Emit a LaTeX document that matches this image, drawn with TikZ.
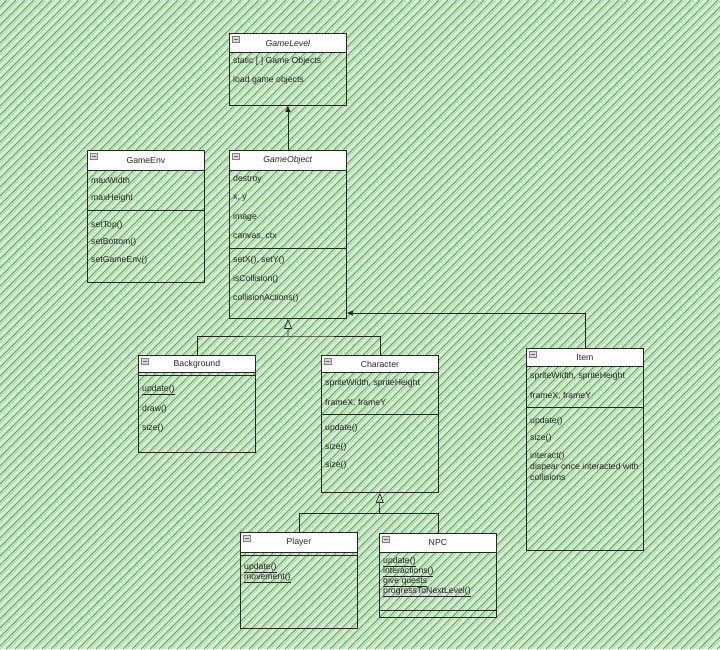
\documentclass[tikz,border=0pt]{standalone}
\usepackage{fontspec}
\setmainfont{Liberation Sans}
\usetikzlibrary{arrows.meta}

\definecolor{hatchA}{HTML}{55B04F}
\definecolor{hatchB}{HTML}{9ED498}
\definecolor{ink}{HTML}{262626}

\begin{document}
\begin{tikzpicture}[x=1pt,y=-1pt,
    box/.style={draw=ink, line width=0.8pt, anchor=north west, inner sep=0pt, minimum width=117pt},
    head/.style={draw=ink, fill=white, line width=0.8pt, anchor=north west, inner sep=0pt,
        minimum width=117pt, text=ink, font=\fontsize{8.7}{10}\selectfont},
    row/.style={anchor=west, inner sep=0pt, text=ink, font=\fontsize{8.7}{10}\selectfont},
    link/.style={draw=ink, line width=0.7pt}]

    % background hatching
    \useasboundingbox (0,0) rectangle (720,649);
    \fill[white] (0,0) rectangle (720,649);
    \begin{scope}
        \clip (0,0) rectangle (720,649);
        \foreach \i in {-660,-651,...,720} {
                \draw[hatchA, line width=1.2pt] (\i,649) -- (\i+649,0);
                \draw[hatchB, line width=1.2pt] (\i+3,649) -- (\i+652,0);
                \draw[hatchB!70, line width=0.9pt] (\i+6,649) -- (\i+655,0);
            }
    \end{scope}

    % GameLevel
    \node[box, minimum height=72pt] (glevel) at (229,33) {};
    \node[head, minimum height=19pt] (glevelHead) at (229,33) {\textit{GameLevel}};
    \node[row] (glevel1) at (233,61) {static [ ] Game Objects};
    \node[row] (glevel2) at (233,80) {load game objects};

    % GameEnv
    \node[box, minimum height=132pt] (genv) at (87,150) {};
    \node[head, minimum height=20pt] (genvHead) at (87,150) {GameEnv};
    \node[row] (genv1) at (91,180) {maxWidth};
    \node[row] (genv2) at (91,198) {maxHeight};
    \draw[link] (87,210) -- (204,210);
    \node[row] (genv3) at (91,225) {setTop()};
    \node[row] (genv4) at (91,242) {setBottom()};
    \node[row] (genv5) at (91,260) {setGameEnv()};

    % GameObject
    \node[box, minimum height=168pt] (gobj) at (229,150) {};
    \node[head, minimum height=20pt] (gobjHead) at (229,150) {\textit{GameObject}};
    \node[row] (gobj1) at (233,179) {destroy};
    \node[row] (gobj2) at (233,198) {x, y};
    \node[row] (gobj3) at (233,217) {image};
    \node[row] (gobj4) at (233,236) {canvas, ctx};
    \draw[link] (229,248) -- (347,248);
    \node[row] (gobj5) at (233,260) {setX(), setY()};
    \node[row] (gobj6) at (233,279) {isCollision()};
    \node[row] (gobj7) at (233,298) {collisionActions()};

    % Background
    \node[box, minimum height=97pt] (bg) at (138,355) {};
    \node[head, minimum height=17pt] (bgHead) at (138,355) {Background};
    \draw[link] (138,375) -- (255,375);
    \node[row] (bg1) at (142,390) {\underline{update()}};
    \node[row] (bg2) at (142,409) {draw()};
    \node[row] (bg3) at (142,428) {size()};

    % Character
    \node[box, minimum height=137pt] (ch) at (321,355) {};
    \node[head, minimum height=17pt] (chHead) at (321,355) {Character};
    \node[row] (ch1) at (325,383) {spriteWidth, spriteHeight};
    \node[row] (ch2) at (325,403) {frameX, frameY};
    \draw[link] (321,414) -- (438,414);
    \node[row] (ch3) at (325,428) {update()};
    \node[row] (ch4) at (325,447) {size()};
    \node[row] (ch5) at (325,465) {size()};

    % Item
    \node[box, minimum height=202pt] (item) at (526,348) {};
    \node[head, minimum height=18pt] (itemHead) at (526,348) {Item};
    \node[row] (item1) at (530,376) {spriteWidth, spriteHeight};
    \node[row] (item2) at (530,396) {frameX, frameY};
    \draw[link] (526,407) -- (643,407);
    \node[row] (item3) at (530,421) {update()};
    \node[row] (item4) at (530,438) {size()};
    \node[row] (item5) at (530,456) {interact()};
    \node[row] (item6) at (530,467) {dispear once interacted with};
    \node[row] (item7) at (530,477) {collisions};

    % Player
    \node[box, minimum height=96pt] (player) at (240,532) {};
    \node[head, minimum height=20pt] (playerHead) at (240,532) {Player};
    \draw[link] (240,555) -- (357,555);
    \node[row] (player1) at (244,568) {\underline{update()}};
    \node[row] (player2) at (244,578) {\underline{movement()}};

    % NPC
    \node[box, minimum height=84pt] (npc) at (379,533) {};
    \node[head, minimum height=19pt] (npcHead) at (379,533) {NPC};
    \node[row] (npc1) at (383,562) {\underline{update()}};
    \node[row] (npc2) at (383,572) {\underline{interactions()}};
    \node[row] (npc3) at (383,582) {\underline{give quests}};
    \node[row] (npc4) at (383,592) {\underline{progressToNextLevel()}};
    \draw[link] (379,610) -- (496,610);

    % collapse icons
    \foreach \x/\y in {229/33, 87/150, 229/150, 138/355, 321/355, 526/348, 240/532, 379/533} {
            \draw[fill=black!15, draw=black!50, line width=0.4pt] (\x+3,\y+3) rectangle (\x+10,\y+9);
            \draw[black!60, line width=0.6pt] (\x+4.5,\y+6) -- (\x+8.5,\y+6);
        }

    % connectors
    \coordinate (j1) at (288,336);
    \coordinate (j2) at (379.5,513);
    \coordinate (j3) at (347,313);
    \draw[link, -{Triangle[length=6pt,width=5pt]}] (gobj.north) -- (glevel.south);
    \draw[link] (bg.north) |- (j1) -| (ch.north);
    \draw[link, -{Triangle[open,length=10pt,width=8pt]}] (j1) -- (gobj.south);
    \draw[link] (player.north) |- (j2) -| (npc.north);
    \draw[link, -{Triangle[open,length=10pt,width=8pt]}] (j2) -- (ch.south);
    \draw[link, -{Triangle[length=6pt,width=5pt]}] (item.north) |- (j3);
\end{tikzpicture}
\end{document}
